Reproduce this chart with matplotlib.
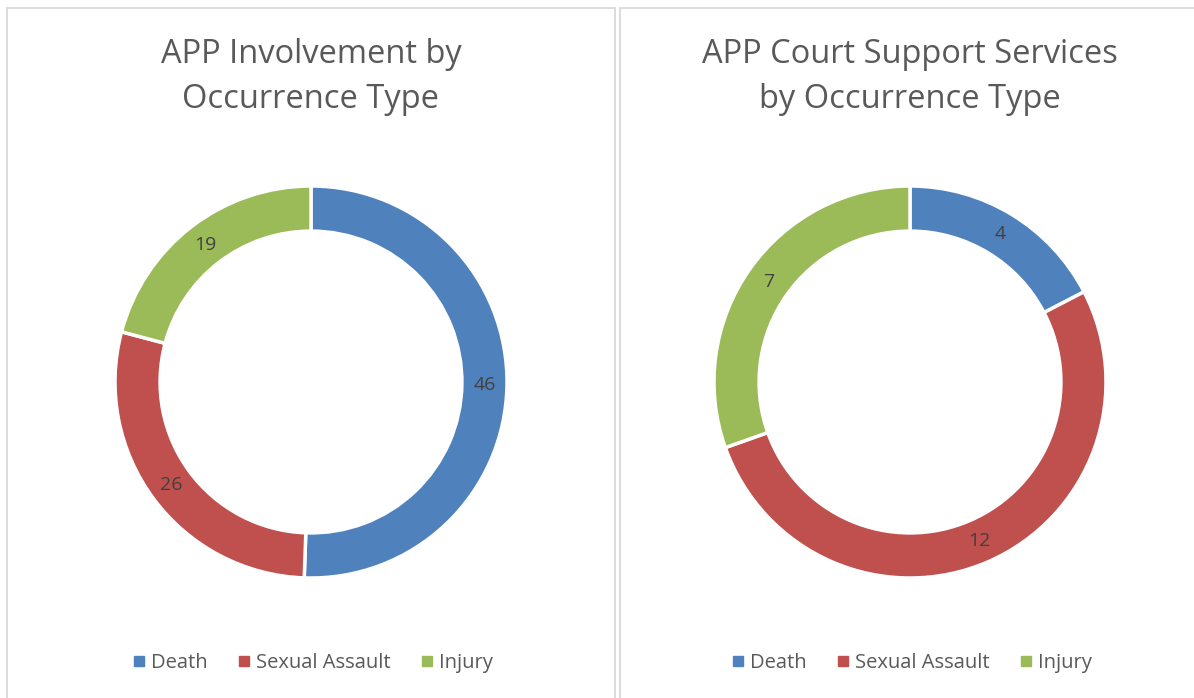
import matplotlib
matplotlib.use("Agg")
import matplotlib.pyplot as plt
from matplotlib.patches import Rectangle
from matplotlib.lines import Line2D

plt.rcParams['font.family'] = ['Open Sans', 'DejaVu Sans']

categories = ["Death", "Sexual Assault", "Injury"]
colors = ["#4F81BD", "#C0504D", "#9BBB59"]

involvement = [46, 26, 19]
court_support = [4, 12, 7]

titles = ["APP Involvement by\nOccurrence Type",
          "APP Court Support Services\nby Occurrence Type"]

W, H = 1194, 698
fig = plt.figure(figsize=(W / 100, H / 100), dpi=100)

# panel frames (pixel coords)
border = "#D9D9D9"
fig.patches.append(Rectangle((7 / W, -0.05), (615 - 7) / W, 1.05 - 8 / H,
                             transform=fig.transFigure, fill=False,
                             edgecolor=border, linewidth=1.3))
fig.patches.append(Rectangle((619.5 / W, -0.05), 0.6, 1.05 - 8 / H,
                             transform=fig.transFigure, fill=False,
                             edgecolor=border, linewidth=1.3))


def donut(cx, values, title):
    cy, r = 382, 196
    ax = fig.add_axes([(cx - r) / W, (H - cy - r) / H, 2 * r / W, 2 * r / H])
    total = sum(values)
    ax.pie(values, colors=colors, startangle=90, counterclock=False, radius=1,
           wedgeprops=dict(width=0.23, edgecolor="white", linewidth=2.5),
           autopct=lambda p: f"{round(p * total / 100)}", pctdistance=0.885,
           textprops=dict(color="#404040", fontsize=14))
    ax.set_xlim(-1, 1)
    ax.set_ylim(-1, 1)
    ax.set_aspect("equal")
    ax.axis("off")
    fig.text(cx / W, 1 - 77 / H, title, ha="center", va="center",
             fontsize=23.5, color="#595959", linespacing=1.45)
    handles = [Line2D([], [], marker="s", linestyle="", color=c, markersize=7.5)
               for c in colors]
    fig.legend(handles, categories, loc="center", ncol=3,
               bbox_to_anchor=(cx / W, 1 - 663 / H), frameon=False,
               fontsize=14.5, labelcolor="#595959", handletextpad=0.1,
               columnspacing=1.3, handlelength=1.0)


donut(311, involvement, titles[0])
donut(910, court_support, titles[1])

fig.savefig("out.png", dpi=100, facecolor="white")
